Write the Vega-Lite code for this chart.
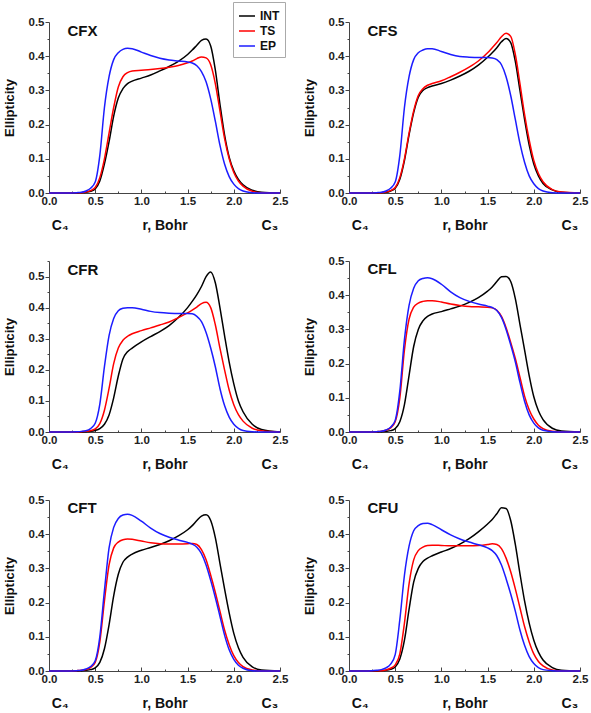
{
"$schema": "https://vega.github.io/schema/vega-lite/v6.json",
"padding": {"left": 3, "top": 1, "right": 2, "bottom": 0},
"background": "white",
"config": {"view": {"stroke": null}, "font": "Liberation Sans",
  "axis": {"grid": false, "domainColor": "#444", "tickColor": "#444", "labelFont": "Liberation Sans", "labelFontSize": 11.5, "labelFontWeight": "bold", "labelColor": "#222", "titleFont": "Liberation Sans", "titleFontWeight": "bold", "titleColor": "#111", "labelOverlap": false, "labelFlush": false}},
"bounds": "flush",
"columns": 2,
"spacing": {"row": 68, "column": 69},
"resolve": {"scale": {"x": "independent", "y": "independent", "color": "shared"}},
"datasets": {
"labels": [
{"p":"CFX","label":"CFX","x":0.2,"y":0.46},
{"p":"CFS","label":"CFS","x":0.2,"y":0.46},
{"p":"CFR","label":"CFR","x":0.2,"y":0.506},
{"p":"CFL","label":"CFL","x":0.2,"y":0.461},
{"p":"CFT","label":"CFT","x":0.2,"y":0.461},
{"p":"CFU","label":"CFU","x":0.2,"y":0.461}
],
"curves": [
{"p":"CFX","s":"INT","x":0,"y":0},{"p":"CFX","s":"INT","x":0.2,"y":0},{"p":"CFX","s":"INT","x":0.3,"y":0},{"p":"CFX","s":"INT","x":0.35,"y":0.001},{"p":"CFX","s":"INT","x":0.4,"y":0.002},{"p":"CFX","s":"INT","x":0.45,"y":0.005},{"p":"CFX","s":"INT","x":0.5,"y":0.012},{"p":"CFX","s":"INT","x":0.55,"y":0.035},{"p":"CFX","s":"INT","x":0.6,"y":0.085},{"p":"CFX","s":"INT","x":0.65,"y":0.15},{"p":"CFX","s":"INT","x":0.7,"y":0.225},{"p":"CFX","s":"INT","x":0.75,"y":0.278},{"p":"CFX","s":"INT","x":0.8,"y":0.305},{"p":"CFX","s":"INT","x":0.85,"y":0.32},{"p":"CFX","s":"INT","x":0.9,"y":0.327},{"p":"CFX","s":"INT","x":1.0,"y":0.336},{"p":"CFX","s":"INT","x":1.1,"y":0.345},{"p":"CFX","s":"INT","x":1.2,"y":0.357},{"p":"CFX","s":"INT","x":1.3,"y":0.37},{"p":"CFX","s":"INT","x":1.4,"y":0.385},{"p":"CFX","s":"INT","x":1.5,"y":0.405},{"p":"CFX","s":"INT","x":1.55,"y":0.418},{"p":"CFX","s":"INT","x":1.6,"y":0.432},{"p":"CFX","s":"INT","x":1.65,"y":0.446},{"p":"CFX","s":"INT","x":1.7,"y":0.45},{"p":"CFX","s":"INT","x":1.75,"y":0.43},{"p":"CFX","s":"INT","x":1.8,"y":0.36},{"p":"CFX","s":"INT","x":1.85,"y":0.26},{"p":"CFX","s":"INT","x":1.9,"y":0.17},{"p":"CFX","s":"INT","x":1.95,"y":0.105},{"p":"CFX","s":"INT","x":2.0,"y":0.065},{"p":"CFX","s":"INT","x":2.05,"y":0.04},{"p":"CFX","s":"INT","x":2.1,"y":0.024},{"p":"CFX","s":"INT","x":2.2,"y":0.008},{"p":"CFX","s":"INT","x":2.3,"y":0.002},{"p":"CFX","s":"INT","x":2.5,"y":0},
{"p":"CFX","s":"TS","x":0,"y":0},{"p":"CFX","s":"TS","x":0.2,"y":0},{"p":"CFX","s":"TS","x":0.3,"y":0.001},{"p":"CFX","s":"TS","x":0.35,"y":0.001},{"p":"CFX","s":"TS","x":0.4,"y":0.003},{"p":"CFX","s":"TS","x":0.45,"y":0.007},{"p":"CFX","s":"TS","x":0.5,"y":0.016},{"p":"CFX","s":"TS","x":0.55,"y":0.045},{"p":"CFX","s":"TS","x":0.6,"y":0.1},{"p":"CFX","s":"TS","x":0.65,"y":0.175},{"p":"CFX","s":"TS","x":0.7,"y":0.25},{"p":"CFX","s":"TS","x":0.75,"y":0.31},{"p":"CFX","s":"TS","x":0.8,"y":0.34},{"p":"CFX","s":"TS","x":0.85,"y":0.352},{"p":"CFX","s":"TS","x":0.9,"y":0.357},{"p":"CFX","s":"TS","x":1.0,"y":0.359},{"p":"CFX","s":"TS","x":1.1,"y":0.361},{"p":"CFX","s":"TS","x":1.2,"y":0.364},{"p":"CFX","s":"TS","x":1.3,"y":0.368},{"p":"CFX","s":"TS","x":1.4,"y":0.373},{"p":"CFX","s":"TS","x":1.5,"y":0.381},{"p":"CFX","s":"TS","x":1.55,"y":0.386},{"p":"CFX","s":"TS","x":1.6,"y":0.393},{"p":"CFX","s":"TS","x":1.65,"y":0.398},{"p":"CFX","s":"TS","x":1.7,"y":0.395},{"p":"CFX","s":"TS","x":1.75,"y":0.375},{"p":"CFX","s":"TS","x":1.8,"y":0.32},{"p":"CFX","s":"TS","x":1.85,"y":0.24},{"p":"CFX","s":"TS","x":1.9,"y":0.16},{"p":"CFX","s":"TS","x":1.95,"y":0.1},{"p":"CFX","s":"TS","x":2.0,"y":0.06},{"p":"CFX","s":"TS","x":2.05,"y":0.035},{"p":"CFX","s":"TS","x":2.1,"y":0.02},{"p":"CFX","s":"TS","x":2.2,"y":0.005},{"p":"CFX","s":"TS","x":2.3,"y":0.001},{"p":"CFX","s":"TS","x":2.5,"y":0},
{"p":"CFX","s":"EP","x":0,"y":0},{"p":"CFX","s":"EP","x":0.2,"y":0},{"p":"CFX","s":"EP","x":0.3,"y":0.001},{"p":"CFX","s":"EP","x":0.35,"y":0.002},{"p":"CFX","s":"EP","x":0.4,"y":0.006},{"p":"CFX","s":"EP","x":0.45,"y":0.014},{"p":"CFX","s":"EP","x":0.5,"y":0.032},{"p":"CFX","s":"EP","x":0.55,"y":0.11},{"p":"CFX","s":"EP","x":0.6,"y":0.25},{"p":"CFX","s":"EP","x":0.65,"y":0.34},{"p":"CFX","s":"EP","x":0.7,"y":0.39},{"p":"CFX","s":"EP","x":0.75,"y":0.41},{"p":"CFX","s":"EP","x":0.8,"y":0.42},{"p":"CFX","s":"EP","x":0.85,"y":0.423},{"p":"CFX","s":"EP","x":0.9,"y":0.422},{"p":"CFX","s":"EP","x":1.0,"y":0.412},{"p":"CFX","s":"EP","x":1.1,"y":0.402},{"p":"CFX","s":"EP","x":1.2,"y":0.394},{"p":"CFX","s":"EP","x":1.3,"y":0.389},{"p":"CFX","s":"EP","x":1.4,"y":0.386},{"p":"CFX","s":"EP","x":1.5,"y":0.383},{"p":"CFX","s":"EP","x":1.55,"y":0.38},{"p":"CFX","s":"EP","x":1.6,"y":0.372},{"p":"CFX","s":"EP","x":1.65,"y":0.355},{"p":"CFX","s":"EP","x":1.7,"y":0.325},{"p":"CFX","s":"EP","x":1.75,"y":0.275},{"p":"CFX","s":"EP","x":1.8,"y":0.21},{"p":"CFX","s":"EP","x":1.85,"y":0.14},{"p":"CFX","s":"EP","x":1.9,"y":0.085},{"p":"CFX","s":"EP","x":1.95,"y":0.048},{"p":"CFX","s":"EP","x":2.0,"y":0.026},{"p":"CFX","s":"EP","x":2.05,"y":0.013},{"p":"CFX","s":"EP","x":2.1,"y":0.006},{"p":"CFX","s":"EP","x":2.2,"y":0.001},{"p":"CFX","s":"EP","x":2.3,"y":0},{"p":"CFX","s":"EP","x":2.5,"y":0},

{"p":"CFS","s":"INT","x":0,"y":0},{"p":"CFS","s":"INT","x":0.2,"y":0},{"p":"CFS","s":"INT","x":0.3,"y":0},{"p":"CFS","s":"INT","x":0.35,"y":0.001},{"p":"CFS","s":"INT","x":0.4,"y":0.002},{"p":"CFS","s":"INT","x":0.45,"y":0.006},{"p":"CFS","s":"INT","x":0.5,"y":0.014},{"p":"CFS","s":"INT","x":0.55,"y":0.04},{"p":"CFS","s":"INT","x":0.6,"y":0.095},{"p":"CFS","s":"INT","x":0.65,"y":0.17},{"p":"CFS","s":"INT","x":0.7,"y":0.235},{"p":"CFS","s":"INT","x":0.75,"y":0.28},{"p":"CFS","s":"INT","x":0.8,"y":0.3},{"p":"CFS","s":"INT","x":0.85,"y":0.308},{"p":"CFS","s":"INT","x":0.9,"y":0.313},{"p":"CFS","s":"INT","x":1.0,"y":0.32},{"p":"CFS","s":"INT","x":1.1,"y":0.33},{"p":"CFS","s":"INT","x":1.2,"y":0.342},{"p":"CFS","s":"INT","x":1.3,"y":0.356},{"p":"CFS","s":"INT","x":1.4,"y":0.374},{"p":"CFS","s":"INT","x":1.5,"y":0.397},{"p":"CFS","s":"INT","x":1.55,"y":0.41},{"p":"CFS","s":"INT","x":1.6,"y":0.425},{"p":"CFS","s":"INT","x":1.65,"y":0.442},{"p":"CFS","s":"INT","x":1.7,"y":0.452},{"p":"CFS","s":"INT","x":1.75,"y":0.44},{"p":"CFS","s":"INT","x":1.8,"y":0.385},{"p":"CFS","s":"INT","x":1.85,"y":0.3},{"p":"CFS","s":"INT","x":1.9,"y":0.215},{"p":"CFS","s":"INT","x":1.95,"y":0.14},{"p":"CFS","s":"INT","x":2.0,"y":0.085},{"p":"CFS","s":"INT","x":2.05,"y":0.05},{"p":"CFS","s":"INT","x":2.1,"y":0.028},{"p":"CFS","s":"INT","x":2.2,"y":0.009},{"p":"CFS","s":"INT","x":2.3,"y":0.002},{"p":"CFS","s":"INT","x":2.5,"y":0},
{"p":"CFS","s":"TS","x":0,"y":0},{"p":"CFS","s":"TS","x":0.2,"y":0},{"p":"CFS","s":"TS","x":0.3,"y":0.001},{"p":"CFS","s":"TS","x":0.35,"y":0.001},{"p":"CFS","s":"TS","x":0.4,"y":0.003},{"p":"CFS","s":"TS","x":0.45,"y":0.007},{"p":"CFS","s":"TS","x":0.5,"y":0.016},{"p":"CFS","s":"TS","x":0.55,"y":0.045},{"p":"CFS","s":"TS","x":0.6,"y":0.1},{"p":"CFS","s":"TS","x":0.65,"y":0.175},{"p":"CFS","s":"TS","x":0.7,"y":0.24},{"p":"CFS","s":"TS","x":0.75,"y":0.285},{"p":"CFS","s":"TS","x":0.8,"y":0.305},{"p":"CFS","s":"TS","x":0.85,"y":0.315},{"p":"CFS","s":"TS","x":0.9,"y":0.32},{"p":"CFS","s":"TS","x":1.0,"y":0.328},{"p":"CFS","s":"TS","x":1.1,"y":0.34},{"p":"CFS","s":"TS","x":1.2,"y":0.353},{"p":"CFS","s":"TS","x":1.3,"y":0.368},{"p":"CFS","s":"TS","x":1.4,"y":0.386},{"p":"CFS","s":"TS","x":1.5,"y":0.41},{"p":"CFS","s":"TS","x":1.55,"y":0.425},{"p":"CFS","s":"TS","x":1.6,"y":0.44},{"p":"CFS","s":"TS","x":1.65,"y":0.457},{"p":"CFS","s":"TS","x":1.7,"y":0.467},{"p":"CFS","s":"TS","x":1.75,"y":0.458},{"p":"CFS","s":"TS","x":1.8,"y":0.405},{"p":"CFS","s":"TS","x":1.85,"y":0.32},{"p":"CFS","s":"TS","x":1.9,"y":0.23},{"p":"CFS","s":"TS","x":1.95,"y":0.155},{"p":"CFS","s":"TS","x":2.0,"y":0.095},{"p":"CFS","s":"TS","x":2.05,"y":0.057},{"p":"CFS","s":"TS","x":2.1,"y":0.033},{"p":"CFS","s":"TS","x":2.2,"y":0.01},{"p":"CFS","s":"TS","x":2.3,"y":0.003},{"p":"CFS","s":"TS","x":2.5,"y":0},
{"p":"CFS","s":"EP","x":0,"y":0},{"p":"CFS","s":"EP","x":0.2,"y":0},{"p":"CFS","s":"EP","x":0.3,"y":0.001},{"p":"CFS","s":"EP","x":0.35,"y":0.002},{"p":"CFS","s":"EP","x":0.4,"y":0.006},{"p":"CFS","s":"EP","x":0.45,"y":0.014},{"p":"CFS","s":"EP","x":0.5,"y":0.032},{"p":"CFS","s":"EP","x":0.55,"y":0.11},{"p":"CFS","s":"EP","x":0.6,"y":0.25},{"p":"CFS","s":"EP","x":0.65,"y":0.34},{"p":"CFS","s":"EP","x":0.7,"y":0.39},{"p":"CFS","s":"EP","x":0.75,"y":0.41},{"p":"CFS","s":"EP","x":0.8,"y":0.418},{"p":"CFS","s":"EP","x":0.85,"y":0.422},{"p":"CFS","s":"EP","x":0.9,"y":0.422},{"p":"CFS","s":"EP","x":1.0,"y":0.414},{"p":"CFS","s":"EP","x":1.1,"y":0.405},{"p":"CFS","s":"EP","x":1.2,"y":0.399},{"p":"CFS","s":"EP","x":1.3,"y":0.397},{"p":"CFS","s":"EP","x":1.4,"y":0.396},{"p":"CFS","s":"EP","x":1.5,"y":0.396},{"p":"CFS","s":"EP","x":1.55,"y":0.395},{"p":"CFS","s":"EP","x":1.6,"y":0.39},{"p":"CFS","s":"EP","x":1.65,"y":0.375},{"p":"CFS","s":"EP","x":1.7,"y":0.34},{"p":"CFS","s":"EP","x":1.75,"y":0.285},{"p":"CFS","s":"EP","x":1.8,"y":0.215},{"p":"CFS","s":"EP","x":1.85,"y":0.145},{"p":"CFS","s":"EP","x":1.9,"y":0.09},{"p":"CFS","s":"EP","x":1.95,"y":0.05},{"p":"CFS","s":"EP","x":2.0,"y":0.027},{"p":"CFS","s":"EP","x":2.05,"y":0.013},{"p":"CFS","s":"EP","x":2.1,"y":0.006},{"p":"CFS","s":"EP","x":2.2,"y":0.001},{"p":"CFS","s":"EP","x":2.3,"y":0},{"p":"CFS","s":"EP","x":2.5,"y":0},

{"p":"CFR","s":"INT","x":0,"y":0},{"p":"CFR","s":"INT","x":0.2,"y":0},{"p":"CFR","s":"INT","x":0.3,"y":0},{"p":"CFR","s":"INT","x":0.35,"y":0},{"p":"CFR","s":"INT","x":0.4,"y":0.001},{"p":"CFR","s":"INT","x":0.45,"y":0.002},{"p":"CFR","s":"INT","x":0.5,"y":0.005},{"p":"CFR","s":"INT","x":0.55,"y":0.011},{"p":"CFR","s":"INT","x":0.6,"y":0.025},{"p":"CFR","s":"INT","x":0.65,"y":0.055},{"p":"CFR","s":"INT","x":0.7,"y":0.11},{"p":"CFR","s":"INT","x":0.75,"y":0.18},{"p":"CFR","s":"INT","x":0.8,"y":0.235},{"p":"CFR","s":"INT","x":0.85,"y":0.258},{"p":"CFR","s":"INT","x":0.9,"y":0.27},{"p":"CFR","s":"INT","x":1.0,"y":0.29},{"p":"CFR","s":"INT","x":1.1,"y":0.307},{"p":"CFR","s":"INT","x":1.2,"y":0.323},{"p":"CFR","s":"INT","x":1.3,"y":0.342},{"p":"CFR","s":"INT","x":1.4,"y":0.368},{"p":"CFR","s":"INT","x":1.5,"y":0.4},{"p":"CFR","s":"INT","x":1.55,"y":0.42},{"p":"CFR","s":"INT","x":1.6,"y":0.442},{"p":"CFR","s":"INT","x":1.65,"y":0.468},{"p":"CFR","s":"INT","x":1.7,"y":0.5},{"p":"CFR","s":"INT","x":1.75,"y":0.515},{"p":"CFR","s":"INT","x":1.8,"y":0.48},{"p":"CFR","s":"INT","x":1.85,"y":0.4},{"p":"CFR","s":"INT","x":1.9,"y":0.31},{"p":"CFR","s":"INT","x":1.95,"y":0.225},{"p":"CFR","s":"INT","x":2.0,"y":0.155},{"p":"CFR","s":"INT","x":2.05,"y":0.1},{"p":"CFR","s":"INT","x":2.1,"y":0.065},{"p":"CFR","s":"INT","x":2.2,"y":0.025},{"p":"CFR","s":"INT","x":2.3,"y":0.008},{"p":"CFR","s":"INT","x":2.5,"y":0},
{"p":"CFR","s":"TS","x":0,"y":0},{"p":"CFR","s":"TS","x":0.2,"y":0},{"p":"CFR","s":"TS","x":0.3,"y":0},{"p":"CFR","s":"TS","x":0.35,"y":0.001},{"p":"CFR","s":"TS","x":0.4,"y":0.002},{"p":"CFR","s":"TS","x":0.45,"y":0.004},{"p":"CFR","s":"TS","x":0.5,"y":0.01},{"p":"CFR","s":"TS","x":0.55,"y":0.027},{"p":"CFR","s":"TS","x":0.6,"y":0.07},{"p":"CFR","s":"TS","x":0.65,"y":0.14},{"p":"CFR","s":"TS","x":0.7,"y":0.22},{"p":"CFR","s":"TS","x":0.75,"y":0.27},{"p":"CFR","s":"TS","x":0.8,"y":0.295},{"p":"CFR","s":"TS","x":0.85,"y":0.308},{"p":"CFR","s":"TS","x":0.9,"y":0.316},{"p":"CFR","s":"TS","x":1.0,"y":0.326},{"p":"CFR","s":"TS","x":1.1,"y":0.335},{"p":"CFR","s":"TS","x":1.2,"y":0.344},{"p":"CFR","s":"TS","x":1.3,"y":0.354},{"p":"CFR","s":"TS","x":1.4,"y":0.368},{"p":"CFR","s":"TS","x":1.5,"y":0.383},{"p":"CFR","s":"TS","x":1.55,"y":0.392},{"p":"CFR","s":"TS","x":1.6,"y":0.402},{"p":"CFR","s":"TS","x":1.65,"y":0.413},{"p":"CFR","s":"TS","x":1.7,"y":0.417},{"p":"CFR","s":"TS","x":1.75,"y":0.4},{"p":"CFR","s":"TS","x":1.8,"y":0.345},{"p":"CFR","s":"TS","x":1.85,"y":0.27},{"p":"CFR","s":"TS","x":1.9,"y":0.2},{"p":"CFR","s":"TS","x":1.95,"y":0.135},{"p":"CFR","s":"TS","x":2.0,"y":0.088},{"p":"CFR","s":"TS","x":2.05,"y":0.056},{"p":"CFR","s":"TS","x":2.1,"y":0.035},{"p":"CFR","s":"TS","x":2.2,"y":0.012},{"p":"CFR","s":"TS","x":2.3,"y":0.004},{"p":"CFR","s":"TS","x":2.5,"y":0},
{"p":"CFR","s":"EP","x":0,"y":0},{"p":"CFR","s":"EP","x":0.2,"y":0},{"p":"CFR","s":"EP","x":0.3,"y":0.001},{"p":"CFR","s":"EP","x":0.35,"y":0.002},{"p":"CFR","s":"EP","x":0.4,"y":0.004},{"p":"CFR","s":"EP","x":0.45,"y":0.011},{"p":"CFR","s":"EP","x":0.5,"y":0.028},{"p":"CFR","s":"EP","x":0.55,"y":0.09},{"p":"CFR","s":"EP","x":0.6,"y":0.21},{"p":"CFR","s":"EP","x":0.65,"y":0.31},{"p":"CFR","s":"EP","x":0.7,"y":0.365},{"p":"CFR","s":"EP","x":0.75,"y":0.39},{"p":"CFR","s":"EP","x":0.8,"y":0.398},{"p":"CFR","s":"EP","x":0.85,"y":0.4},{"p":"CFR","s":"EP","x":0.9,"y":0.4},{"p":"CFR","s":"EP","x":1.0,"y":0.395},{"p":"CFR","s":"EP","x":1.1,"y":0.388},{"p":"CFR","s":"EP","x":1.2,"y":0.384},{"p":"CFR","s":"EP","x":1.3,"y":0.382},{"p":"CFR","s":"EP","x":1.4,"y":0.381},{"p":"CFR","s":"EP","x":1.5,"y":0.381},{"p":"CFR","s":"EP","x":1.55,"y":0.38},{"p":"CFR","s":"EP","x":1.6,"y":0.372},{"p":"CFR","s":"EP","x":1.65,"y":0.355},{"p":"CFR","s":"EP","x":1.7,"y":0.32},{"p":"CFR","s":"EP","x":1.75,"y":0.27},{"p":"CFR","s":"EP","x":1.8,"y":0.21},{"p":"CFR","s":"EP","x":1.85,"y":0.14},{"p":"CFR","s":"EP","x":1.9,"y":0.085},{"p":"CFR","s":"EP","x":1.95,"y":0.048},{"p":"CFR","s":"EP","x":2.0,"y":0.025},{"p":"CFR","s":"EP","x":2.05,"y":0.012},{"p":"CFR","s":"EP","x":2.1,"y":0.005},{"p":"CFR","s":"EP","x":2.2,"y":0.001},{"p":"CFR","s":"EP","x":2.3,"y":0},{"p":"CFR","s":"EP","x":2.5,"y":0},

{"p":"CFL","s":"INT","x":0,"y":0},{"p":"CFL","s":"INT","x":0.2,"y":0},{"p":"CFL","s":"INT","x":0.3,"y":0},{"p":"CFL","s":"INT","x":0.35,"y":0.001},{"p":"CFL","s":"INT","x":0.4,"y":0.002},{"p":"CFL","s":"INT","x":0.45,"y":0.004},{"p":"CFL","s":"INT","x":0.5,"y":0.01},{"p":"CFL","s":"INT","x":0.55,"y":0.03},{"p":"CFL","s":"INT","x":0.6,"y":0.08},{"p":"CFL","s":"INT","x":0.65,"y":0.165},{"p":"CFL","s":"INT","x":0.7,"y":0.25},{"p":"CFL","s":"INT","x":0.75,"y":0.3},{"p":"CFL","s":"INT","x":0.8,"y":0.325},{"p":"CFL","s":"INT","x":0.85,"y":0.338},{"p":"CFL","s":"INT","x":0.9,"y":0.345},{"p":"CFL","s":"INT","x":1.0,"y":0.352},{"p":"CFL","s":"INT","x":1.1,"y":0.36},{"p":"CFL","s":"INT","x":1.2,"y":0.368},{"p":"CFL","s":"INT","x":1.3,"y":0.379},{"p":"CFL","s":"INT","x":1.4,"y":0.393},{"p":"CFL","s":"INT","x":1.5,"y":0.412},{"p":"CFL","s":"INT","x":1.55,"y":0.424},{"p":"CFL","s":"INT","x":1.6,"y":0.44},{"p":"CFL","s":"INT","x":1.65,"y":0.454},{"p":"CFL","s":"INT","x":1.7,"y":0.455},{"p":"CFL","s":"INT","x":1.75,"y":0.44},{"p":"CFL","s":"INT","x":1.8,"y":0.39},{"p":"CFL","s":"INT","x":1.85,"y":0.315},{"p":"CFL","s":"INT","x":1.9,"y":0.24},{"p":"CFL","s":"INT","x":1.95,"y":0.165},{"p":"CFL","s":"INT","x":2.0,"y":0.103},{"p":"CFL","s":"INT","x":2.05,"y":0.062},{"p":"CFL","s":"INT","x":2.1,"y":0.036},{"p":"CFL","s":"INT","x":2.2,"y":0.011},{"p":"CFL","s":"INT","x":2.3,"y":0.003},{"p":"CFL","s":"INT","x":2.5,"y":0},
{"p":"CFL","s":"TS","x":0,"y":0},{"p":"CFL","s":"TS","x":0.2,"y":0},{"p":"CFL","s":"TS","x":0.3,"y":0.001},{"p":"CFL","s":"TS","x":0.35,"y":0.002},{"p":"CFL","s":"TS","x":0.4,"y":0.005},{"p":"CFL","s":"TS","x":0.45,"y":0.012},{"p":"CFL","s":"TS","x":0.5,"y":0.03},{"p":"CFL","s":"TS","x":0.55,"y":0.1},{"p":"CFL","s":"TS","x":0.6,"y":0.24},{"p":"CFL","s":"TS","x":0.65,"y":0.33},{"p":"CFL","s":"TS","x":0.7,"y":0.365},{"p":"CFL","s":"TS","x":0.75,"y":0.377},{"p":"CFL","s":"TS","x":0.8,"y":0.382},{"p":"CFL","s":"TS","x":0.85,"y":0.384},{"p":"CFL","s":"TS","x":0.9,"y":0.384},{"p":"CFL","s":"TS","x":1.0,"y":0.38},{"p":"CFL","s":"TS","x":1.1,"y":0.374},{"p":"CFL","s":"TS","x":1.2,"y":0.37},{"p":"CFL","s":"TS","x":1.3,"y":0.367},{"p":"CFL","s":"TS","x":1.4,"y":0.366},{"p":"CFL","s":"TS","x":1.5,"y":0.365},{"p":"CFL","s":"TS","x":1.55,"y":0.363},{"p":"CFL","s":"TS","x":1.6,"y":0.356},{"p":"CFL","s":"TS","x":1.65,"y":0.338},{"p":"CFL","s":"TS","x":1.7,"y":0.305},{"p":"CFL","s":"TS","x":1.75,"y":0.262},{"p":"CFL","s":"TS","x":1.8,"y":0.215},{"p":"CFL","s":"TS","x":1.85,"y":0.16},{"p":"CFL","s":"TS","x":1.9,"y":0.105},{"p":"CFL","s":"TS","x":1.95,"y":0.065},{"p":"CFL","s":"TS","x":2.0,"y":0.038},{"p":"CFL","s":"TS","x":2.05,"y":0.02},{"p":"CFL","s":"TS","x":2.1,"y":0.01},{"p":"CFL","s":"TS","x":2.2,"y":0.002},{"p":"CFL","s":"TS","x":2.3,"y":0},{"p":"CFL","s":"TS","x":2.5,"y":0},
{"p":"CFL","s":"EP","x":0,"y":0},{"p":"CFL","s":"EP","x":0.2,"y":0},{"p":"CFL","s":"EP","x":0.3,"y":0.001},{"p":"CFL","s":"EP","x":0.35,"y":0.002},{"p":"CFL","s":"EP","x":0.4,"y":0.006},{"p":"CFL","s":"EP","x":0.45,"y":0.014},{"p":"CFL","s":"EP","x":0.5,"y":0.034},{"p":"CFL","s":"EP","x":0.55,"y":0.12},{"p":"CFL","s":"EP","x":0.6,"y":0.27},{"p":"CFL","s":"EP","x":0.65,"y":0.37},{"p":"CFL","s":"EP","x":0.7,"y":0.42},{"p":"CFL","s":"EP","x":0.75,"y":0.442},{"p":"CFL","s":"EP","x":0.8,"y":0.449},{"p":"CFL","s":"EP","x":0.85,"y":0.451},{"p":"CFL","s":"EP","x":0.9,"y":0.448},{"p":"CFL","s":"EP","x":1.0,"y":0.432},{"p":"CFL","s":"EP","x":1.1,"y":0.41},{"p":"CFL","s":"EP","x":1.2,"y":0.393},{"p":"CFL","s":"EP","x":1.3,"y":0.382},{"p":"CFL","s":"EP","x":1.4,"y":0.374},{"p":"CFL","s":"EP","x":1.5,"y":0.368},{"p":"CFL","s":"EP","x":1.55,"y":0.364},{"p":"CFL","s":"EP","x":1.6,"y":0.355},{"p":"CFL","s":"EP","x":1.65,"y":0.335},{"p":"CFL","s":"EP","x":1.7,"y":0.3},{"p":"CFL","s":"EP","x":1.75,"y":0.255},{"p":"CFL","s":"EP","x":1.8,"y":0.205},{"p":"CFL","s":"EP","x":1.85,"y":0.145},{"p":"CFL","s":"EP","x":1.9,"y":0.09},{"p":"CFL","s":"EP","x":1.95,"y":0.05},{"p":"CFL","s":"EP","x":2.0,"y":0.026},{"p":"CFL","s":"EP","x":2.05,"y":0.012},{"p":"CFL","s":"EP","x":2.1,"y":0.005},{"p":"CFL","s":"EP","x":2.2,"y":0.001},{"p":"CFL","s":"EP","x":2.3,"y":0},{"p":"CFL","s":"EP","x":2.5,"y":0},

{"p":"CFT","s":"INT","x":0,"y":0},{"p":"CFT","s":"INT","x":0.2,"y":0},{"p":"CFT","s":"INT","x":0.3,"y":0},{"p":"CFT","s":"INT","x":0.35,"y":0.001},{"p":"CFT","s":"INT","x":0.4,"y":0.002},{"p":"CFT","s":"INT","x":0.45,"y":0.004},{"p":"CFT","s":"INT","x":0.5,"y":0.009},{"p":"CFT","s":"INT","x":0.55,"y":0.025},{"p":"CFT","s":"INT","x":0.6,"y":0.065},{"p":"CFT","s":"INT","x":0.65,"y":0.135},{"p":"CFT","s":"INT","x":0.7,"y":0.22},{"p":"CFT","s":"INT","x":0.75,"y":0.283},{"p":"CFT","s":"INT","x":0.8,"y":0.318},{"p":"CFT","s":"INT","x":0.85,"y":0.333},{"p":"CFT","s":"INT","x":0.9,"y":0.342},{"p":"CFT","s":"INT","x":1.0,"y":0.353},{"p":"CFT","s":"INT","x":1.1,"y":0.361},{"p":"CFT","s":"INT","x":1.2,"y":0.37},{"p":"CFT","s":"INT","x":1.3,"y":0.381},{"p":"CFT","s":"INT","x":1.4,"y":0.395},{"p":"CFT","s":"INT","x":1.5,"y":0.413},{"p":"CFT","s":"INT","x":1.55,"y":0.425},{"p":"CFT","s":"INT","x":1.6,"y":0.44},{"p":"CFT","s":"INT","x":1.65,"y":0.453},{"p":"CFT","s":"INT","x":1.7,"y":0.457},{"p":"CFT","s":"INT","x":1.75,"y":0.44},{"p":"CFT","s":"INT","x":1.8,"y":0.39},{"p":"CFT","s":"INT","x":1.85,"y":0.315},{"p":"CFT","s":"INT","x":1.9,"y":0.24},{"p":"CFT","s":"INT","x":1.95,"y":0.17},{"p":"CFT","s":"INT","x":2.0,"y":0.11},{"p":"CFT","s":"INT","x":2.05,"y":0.068},{"p":"CFT","s":"INT","x":2.1,"y":0.04},{"p":"CFT","s":"INT","x":2.2,"y":0.012},{"p":"CFT","s":"INT","x":2.3,"y":0.003},{"p":"CFT","s":"INT","x":2.5,"y":0},
{"p":"CFT","s":"TS","x":0,"y":0},{"p":"CFT","s":"TS","x":0.2,"y":0},{"p":"CFT","s":"TS","x":0.3,"y":0.001},{"p":"CFT","s":"TS","x":0.35,"y":0.002},{"p":"CFT","s":"TS","x":0.4,"y":0.004},{"p":"CFT","s":"TS","x":0.45,"y":0.01},{"p":"CFT","s":"TS","x":0.5,"y":0.025},{"p":"CFT","s":"TS","x":0.55,"y":0.085},{"p":"CFT","s":"TS","x":0.6,"y":0.205},{"p":"CFT","s":"TS","x":0.65,"y":0.31},{"p":"CFT","s":"TS","x":0.7,"y":0.36},{"p":"CFT","s":"TS","x":0.75,"y":0.377},{"p":"CFT","s":"TS","x":0.8,"y":0.384},{"p":"CFT","s":"TS","x":0.85,"y":0.386},{"p":"CFT","s":"TS","x":0.9,"y":0.385},{"p":"CFT","s":"TS","x":1.0,"y":0.38},{"p":"CFT","s":"TS","x":1.1,"y":0.375},{"p":"CFT","s":"TS","x":1.2,"y":0.372},{"p":"CFT","s":"TS","x":1.3,"y":0.371},{"p":"CFT","s":"TS","x":1.4,"y":0.371},{"p":"CFT","s":"TS","x":1.5,"y":0.372},{"p":"CFT","s":"TS","x":1.55,"y":0.373},{"p":"CFT","s":"TS","x":1.6,"y":0.37},{"p":"CFT","s":"TS","x":1.65,"y":0.355},{"p":"CFT","s":"TS","x":1.7,"y":0.325},{"p":"CFT","s":"TS","x":1.75,"y":0.28},{"p":"CFT","s":"TS","x":1.8,"y":0.23},{"p":"CFT","s":"TS","x":1.85,"y":0.175},{"p":"CFT","s":"TS","x":1.9,"y":0.12},{"p":"CFT","s":"TS","x":1.95,"y":0.077},{"p":"CFT","s":"TS","x":2.0,"y":0.045},{"p":"CFT","s":"TS","x":2.05,"y":0.025},{"p":"CFT","s":"TS","x":2.1,"y":0.013},{"p":"CFT","s":"TS","x":2.2,"y":0.003},{"p":"CFT","s":"TS","x":2.3,"y":0},{"p":"CFT","s":"TS","x":2.5,"y":0},
{"p":"CFT","s":"EP","x":0,"y":0},{"p":"CFT","s":"EP","x":0.2,"y":0},{"p":"CFT","s":"EP","x":0.3,"y":0.001},{"p":"CFT","s":"EP","x":0.35,"y":0.002},{"p":"CFT","s":"EP","x":0.4,"y":0.006},{"p":"CFT","s":"EP","x":0.45,"y":0.013},{"p":"CFT","s":"EP","x":0.5,"y":0.03},{"p":"CFT","s":"EP","x":0.55,"y":0.1},{"p":"CFT","s":"EP","x":0.6,"y":0.235},{"p":"CFT","s":"EP","x":0.65,"y":0.36},{"p":"CFT","s":"EP","x":0.7,"y":0.42},{"p":"CFT","s":"EP","x":0.75,"y":0.446},{"p":"CFT","s":"EP","x":0.8,"y":0.456},{"p":"CFT","s":"EP","x":0.85,"y":0.458},{"p":"CFT","s":"EP","x":0.9,"y":0.455},{"p":"CFT","s":"EP","x":1.0,"y":0.438},{"p":"CFT","s":"EP","x":1.1,"y":0.418},{"p":"CFT","s":"EP","x":1.2,"y":0.402},{"p":"CFT","s":"EP","x":1.3,"y":0.391},{"p":"CFT","s":"EP","x":1.4,"y":0.383},{"p":"CFT","s":"EP","x":1.5,"y":0.376},{"p":"CFT","s":"EP","x":1.55,"y":0.371},{"p":"CFT","s":"EP","x":1.6,"y":0.362},{"p":"CFT","s":"EP","x":1.65,"y":0.343},{"p":"CFT","s":"EP","x":1.7,"y":0.31},{"p":"CFT","s":"EP","x":1.75,"y":0.265},{"p":"CFT","s":"EP","x":1.8,"y":0.215},{"p":"CFT","s":"EP","x":1.85,"y":0.16},{"p":"CFT","s":"EP","x":1.9,"y":0.105},{"p":"CFT","s":"EP","x":1.95,"y":0.062},{"p":"CFT","s":"EP","x":2.0,"y":0.034},{"p":"CFT","s":"EP","x":2.05,"y":0.017},{"p":"CFT","s":"EP","x":2.1,"y":0.008},{"p":"CFT","s":"EP","x":2.2,"y":0.001},{"p":"CFT","s":"EP","x":2.3,"y":0},{"p":"CFT","s":"EP","x":2.5,"y":0},

{"p":"CFU","s":"INT","x":0,"y":0},{"p":"CFU","s":"INT","x":0.2,"y":0},{"p":"CFU","s":"INT","x":0.3,"y":0},{"p":"CFU","s":"INT","x":0.35,"y":0.001},{"p":"CFU","s":"INT","x":0.4,"y":0.002},{"p":"CFU","s":"INT","x":0.45,"y":0.005},{"p":"CFU","s":"INT","x":0.5,"y":0.012},{"p":"CFU","s":"INT","x":0.55,"y":0.035},{"p":"CFU","s":"INT","x":0.6,"y":0.09},{"p":"CFU","s":"INT","x":0.65,"y":0.18},{"p":"CFU","s":"INT","x":0.7,"y":0.26},{"p":"CFU","s":"INT","x":0.75,"y":0.3},{"p":"CFU","s":"INT","x":0.8,"y":0.32},{"p":"CFU","s":"INT","x":0.85,"y":0.33},{"p":"CFU","s":"INT","x":0.9,"y":0.337},{"p":"CFU","s":"INT","x":1.0,"y":0.348},{"p":"CFU","s":"INT","x":1.1,"y":0.358},{"p":"CFU","s":"INT","x":1.2,"y":0.371},{"p":"CFU","s":"INT","x":1.3,"y":0.387},{"p":"CFU","s":"INT","x":1.4,"y":0.407},{"p":"CFU","s":"INT","x":1.5,"y":0.43},{"p":"CFU","s":"INT","x":1.55,"y":0.443},{"p":"CFU","s":"INT","x":1.6,"y":0.46},{"p":"CFU","s":"INT","x":1.65,"y":0.477},{"p":"CFU","s":"INT","x":1.7,"y":0.475},{"p":"CFU","s":"INT","x":1.75,"y":0.44},{"p":"CFU","s":"INT","x":1.8,"y":0.37},{"p":"CFU","s":"INT","x":1.85,"y":0.285},{"p":"CFU","s":"INT","x":1.9,"y":0.205},{"p":"CFU","s":"INT","x":1.95,"y":0.14},{"p":"CFU","s":"INT","x":2.0,"y":0.09},{"p":"CFU","s":"INT","x":2.05,"y":0.055},{"p":"CFU","s":"INT","x":2.1,"y":0.032},{"p":"CFU","s":"INT","x":2.2,"y":0.01},{"p":"CFU","s":"INT","x":2.3,"y":0.002},{"p":"CFU","s":"INT","x":2.5,"y":0},
{"p":"CFU","s":"TS","x":0,"y":0},{"p":"CFU","s":"TS","x":0.2,"y":0},{"p":"CFU","s":"TS","x":0.3,"y":0.001},{"p":"CFU","s":"TS","x":0.35,"y":0.001},{"p":"CFU","s":"TS","x":0.4,"y":0.003},{"p":"CFU","s":"TS","x":0.45,"y":0.008},{"p":"CFU","s":"TS","x":0.5,"y":0.018},{"p":"CFU","s":"TS","x":0.55,"y":0.05},{"p":"CFU","s":"TS","x":0.6,"y":0.14},{"p":"CFU","s":"TS","x":0.65,"y":0.255},{"p":"CFU","s":"TS","x":0.7,"y":0.325},{"p":"CFU","s":"TS","x":0.75,"y":0.352},{"p":"CFU","s":"TS","x":0.8,"y":0.362},{"p":"CFU","s":"TS","x":0.85,"y":0.367},{"p":"CFU","s":"TS","x":0.9,"y":0.368},{"p":"CFU","s":"TS","x":1.0,"y":0.367},{"p":"CFU","s":"TS","x":1.1,"y":0.366},{"p":"CFU","s":"TS","x":1.2,"y":0.366},{"p":"CFU","s":"TS","x":1.3,"y":0.366},{"p":"CFU","s":"TS","x":1.4,"y":0.367},{"p":"CFU","s":"TS","x":1.5,"y":0.37},{"p":"CFU","s":"TS","x":1.55,"y":0.372},{"p":"CFU","s":"TS","x":1.6,"y":0.37},{"p":"CFU","s":"TS","x":1.65,"y":0.358},{"p":"CFU","s":"TS","x":1.7,"y":0.33},{"p":"CFU","s":"TS","x":1.75,"y":0.29},{"p":"CFU","s":"TS","x":1.8,"y":0.24},{"p":"CFU","s":"TS","x":1.85,"y":0.185},{"p":"CFU","s":"TS","x":1.9,"y":0.13},{"p":"CFU","s":"TS","x":1.95,"y":0.085},{"p":"CFU","s":"TS","x":2.0,"y":0.05},{"p":"CFU","s":"TS","x":2.05,"y":0.028},{"p":"CFU","s":"TS","x":2.1,"y":0.015},{"p":"CFU","s":"TS","x":2.2,"y":0.003},{"p":"CFU","s":"TS","x":2.3,"y":0},{"p":"CFU","s":"TS","x":2.5,"y":0},
{"p":"CFU","s":"EP","x":0,"y":0},{"p":"CFU","s":"EP","x":0.2,"y":0},{"p":"CFU","s":"EP","x":0.25,"y":0.001},{"p":"CFU","s":"EP","x":0.3,"y":0.002},{"p":"CFU","s":"EP","x":0.35,"y":0.004},{"p":"CFU","s":"EP","x":0.4,"y":0.009},{"p":"CFU","s":"EP","x":0.45,"y":0.02},{"p":"CFU","s":"EP","x":0.5,"y":0.048},{"p":"CFU","s":"EP","x":0.55,"y":0.15},{"p":"CFU","s":"EP","x":0.6,"y":0.28},{"p":"CFU","s":"EP","x":0.65,"y":0.365},{"p":"CFU","s":"EP","x":0.7,"y":0.41},{"p":"CFU","s":"EP","x":0.75,"y":0.425},{"p":"CFU","s":"EP","x":0.8,"y":0.431},{"p":"CFU","s":"EP","x":0.85,"y":0.432},{"p":"CFU","s":"EP","x":0.9,"y":0.428},{"p":"CFU","s":"EP","x":1.0,"y":0.413},{"p":"CFU","s":"EP","x":1.1,"y":0.398},{"p":"CFU","s":"EP","x":1.2,"y":0.386},{"p":"CFU","s":"EP","x":1.3,"y":0.377},{"p":"CFU","s":"EP","x":1.4,"y":0.369},{"p":"CFU","s":"EP","x":1.5,"y":0.36},{"p":"CFU","s":"EP","x":1.55,"y":0.352},{"p":"CFU","s":"EP","x":1.6,"y":0.337},{"p":"CFU","s":"EP","x":1.65,"y":0.31},{"p":"CFU","s":"EP","x":1.7,"y":0.27},{"p":"CFU","s":"EP","x":1.75,"y":0.225},{"p":"CFU","s":"EP","x":1.8,"y":0.175},{"p":"CFU","s":"EP","x":1.85,"y":0.12},{"p":"CFU","s":"EP","x":1.9,"y":0.075},{"p":"CFU","s":"EP","x":1.95,"y":0.042},{"p":"CFU","s":"EP","x":2.0,"y":0.022},{"p":"CFU","s":"EP","x":2.05,"y":0.01},{"p":"CFU","s":"EP","x":2.1,"y":0.004},{"p":"CFU","s":"EP","x":2.2,"y":0.001},{"p":"CFU","s":"EP","x":2.3,"y":0},{"p":"CFU","s":"EP","x":2.5,"y":0}
]},
"concat": [
{"width": 231, "height": 171,
 "encoding": {
   "x": {"field": "x", "type": "quantitative", "scale": {"domain": [0, 2.5], "nice": false},
     "axis": {"title": "C₄\u00a0\u00a0\u00a0\u00a0\u00a0\u00a0\u00a0\u00a0\u00a0\u00a0\u00a0\u00a0\u00a0\u00a0\u00a0\u00a0\u00a0\u00a0\u00a0r, Bohr\u00a0\u00a0\u00a0\u00a0\u00a0\u00a0\u00a0\u00a0\u00a0\u00a0\u00a0\u00a0\u00a0\u00a0\u00a0\u00a0\u00a0\u00a0\u00a0C₃", "titleFontSize": 14, "titlePadding": 10, "values": [0,0.25,0.5,0.75,1,1.25,1.5,1.75,2,2.25,2.5], "labelExpr": "abs(datum.value*2 - round(datum.value*2)) < 0.001 ? format(datum.value, '.1f') : ''", "tickSize": {"condition": {"test": "abs(datum.value*2 - round(datum.value*2)) < 0.001", "value": -4}, "value": -2}, "labelPadding": 6}},
   "y": {"field": "y", "type": "quantitative", "scale": {"domain": [0, 0.5], "nice": false},
     "axis": {"title": "Ellipticity", "titleFontSize": 13, "titlePadding": 12, "values": [0,0.05,0.1,0.15,0.2,0.25,0.3,0.35,0.4,0.45,0.5], "labelExpr": "abs(datum.value*10 - round(datum.value*10)) < 0.001 ? format(datum.value, '.1f') : ''", "tickSize": {"condition": {"test": "abs(datum.value*10 - round(datum.value*10)) < 0.001", "value": 4}, "value": 2}, "labelPadding": 1}}
 },
 "layer": [
 {"data": {"name": "curves"}, "transform": [{"filter": "datum.p == 'CFX'"}],
  "mark": {"type": "line", "interpolate": "monotone", "strokeWidth": 1.5},
  "encoding": {
   "color": {"field": "s", "type": "nominal", "scale": {"domain": ["INT", "TS", "EP"], "range": ["#000000", "#ff0000", "#1c1cff"]},
     "legend": {"title": null, "orient": "none", "legendX": 184, "legendY": -20, "direction": "vertical", "symbolType": "stroke", "symbolStrokeWidth": 1.5, "symbolSize": 256, "labelFontSize": 12, "labelFontWeight": "bold", "labelColor": "#111", "labelFont": "Liberation Sans", "strokeColor": "#aaaaaa", "fillColor": "white", "padding": 5, "rowPadding": 0, "labelOffset": 4}}
  }},
 {"data": {"name": "labels"}, "transform": [{"filter": "datum.p == 'CFX'"}],
  "mark": {"type": "text", "align": "left", "baseline": "alphabetic", "fontSize": 15, "fontWeight": "bold", "font": "Liberation Sans", "color": "#111"},
  "encoding": {"text": {"field": "label"}}}
]},
{"width": 231, "height": 171,
 "encoding": {
   "x": {"field": "x", "type": "quantitative", "scale": {"domain": [0, 2.5], "nice": false},
     "axis": {"title": "C₄\u00a0\u00a0\u00a0\u00a0\u00a0\u00a0\u00a0\u00a0\u00a0\u00a0\u00a0\u00a0\u00a0\u00a0\u00a0\u00a0\u00a0\u00a0\u00a0r, Bohr\u00a0\u00a0\u00a0\u00a0\u00a0\u00a0\u00a0\u00a0\u00a0\u00a0\u00a0\u00a0\u00a0\u00a0\u00a0\u00a0\u00a0\u00a0\u00a0C₃", "titleFontSize": 14, "titlePadding": 10, "values": [0,0.25,0.5,0.75,1,1.25,1.5,1.75,2,2.25,2.5], "labelExpr": "abs(datum.value*2 - round(datum.value*2)) < 0.001 ? format(datum.value, '.1f') : ''", "tickSize": {"condition": {"test": "abs(datum.value*2 - round(datum.value*2)) < 0.001", "value": -4}, "value": -2}, "labelPadding": 6}},
   "y": {"field": "y", "type": "quantitative", "scale": {"domain": [0, 0.5], "nice": false},
     "axis": {"title": "Ellipticity", "titleFontSize": 13, "titlePadding": 12, "values": [0,0.05,0.1,0.15,0.2,0.25,0.3,0.35,0.4,0.45,0.5], "labelExpr": "abs(datum.value*10 - round(datum.value*10)) < 0.001 ? format(datum.value, '.1f') : ''", "tickSize": {"condition": {"test": "abs(datum.value*10 - round(datum.value*10)) < 0.001", "value": 4}, "value": 2}, "labelPadding": 1}}
 },
 "layer": [
 {"data": {"name": "curves"}, "transform": [{"filter": "datum.p == 'CFS'"}],
  "mark": {"type": "line", "interpolate": "monotone", "strokeWidth": 1.5},
  "encoding": {"color": {"field": "s", "type": "nominal", "scale": {"domain": ["INT", "TS", "EP"], "range": ["#000000", "#ff0000", "#1c1cff"]}}}},
 {"data": {"name": "labels"}, "transform": [{"filter": "datum.p == 'CFS'"}],
  "mark": {"type": "text", "align": "left", "baseline": "alphabetic", "fontSize": 15, "fontWeight": "bold", "font": "Liberation Sans", "color": "#111"},
  "encoding": {"text": {"field": "label"}}}
]},
{"width": 231, "height": 171,
 "encoding": {
   "x": {"field": "x", "type": "quantitative", "scale": {"domain": [0, 2.5], "nice": false},
     "axis": {"title": "C₄\u00a0\u00a0\u00a0\u00a0\u00a0\u00a0\u00a0\u00a0\u00a0\u00a0\u00a0\u00a0\u00a0\u00a0\u00a0\u00a0\u00a0\u00a0\u00a0r, Bohr\u00a0\u00a0\u00a0\u00a0\u00a0\u00a0\u00a0\u00a0\u00a0\u00a0\u00a0\u00a0\u00a0\u00a0\u00a0\u00a0\u00a0\u00a0\u00a0C₃", "titleFontSize": 14, "titlePadding": 10, "values": [0,0.25,0.5,0.75,1,1.25,1.5,1.75,2,2.25,2.5], "labelExpr": "abs(datum.value*2 - round(datum.value*2)) < 0.001 ? format(datum.value, '.1f') : ''", "tickSize": {"condition": {"test": "abs(datum.value*2 - round(datum.value*2)) < 0.001", "value": -4}, "value": -2}, "labelPadding": 6}},
   "y": {"field": "y", "type": "quantitative", "scale": {"domain": [0, 0.55], "nice": false},
     "axis": {"title": "Ellipticity", "titleFontSize": 13, "titlePadding": 12, "values": [0,0.05,0.1,0.15,0.2,0.25,0.3,0.35,0.4,0.45,0.5,0.55], "labelExpr": "abs(datum.value*10 - round(datum.value*10)) < 0.001 ? format(datum.value, '.1f') : ''", "tickSize": {"condition": {"test": "abs(datum.value*10 - round(datum.value*10)) < 0.001", "value": 4}, "value": 2}, "labelPadding": 1}}
 },
 "layer": [
 {"data": {"name": "curves"}, "transform": [{"filter": "datum.p == 'CFR'"}],
  "mark": {"type": "line", "interpolate": "monotone", "strokeWidth": 1.5},
  "encoding": {"color": {"field": "s", "type": "nominal", "scale": {"domain": ["INT", "TS", "EP"], "range": ["#000000", "#ff0000", "#1c1cff"]}}}},
 {"data": {"name": "labels"}, "transform": [{"filter": "datum.p == 'CFR'"}],
  "mark": {"type": "text", "align": "left", "baseline": "alphabetic", "fontSize": 15, "fontWeight": "bold", "font": "Liberation Sans", "color": "#111"},
  "encoding": {"text": {"field": "label"}}}
]},
{"width": 231, "height": 171,
 "encoding": {
   "x": {"field": "x", "type": "quantitative", "scale": {"domain": [0, 2.5], "nice": false},
     "axis": {"title": "C₄\u00a0\u00a0\u00a0\u00a0\u00a0\u00a0\u00a0\u00a0\u00a0\u00a0\u00a0\u00a0\u00a0\u00a0\u00a0\u00a0\u00a0\u00a0\u00a0r, Bohr\u00a0\u00a0\u00a0\u00a0\u00a0\u00a0\u00a0\u00a0\u00a0\u00a0\u00a0\u00a0\u00a0\u00a0\u00a0\u00a0\u00a0\u00a0\u00a0C₃", "titleFontSize": 14, "titlePadding": 10, "values": [0,0.25,0.5,0.75,1,1.25,1.5,1.75,2,2.25,2.5], "labelExpr": "abs(datum.value*2 - round(datum.value*2)) < 0.001 ? format(datum.value, '.1f') : ''", "tickSize": {"condition": {"test": "abs(datum.value*2 - round(datum.value*2)) < 0.001", "value": -4}, "value": -2}, "labelPadding": 6}},
   "y": {"field": "y", "type": "quantitative", "scale": {"domain": [0, 0.5], "nice": false},
     "axis": {"title": "Ellipticity", "titleFontSize": 13, "titlePadding": 12, "values": [0,0.05,0.1,0.15,0.2,0.25,0.3,0.35,0.4,0.45,0.5], "labelExpr": "abs(datum.value*10 - round(datum.value*10)) < 0.001 ? format(datum.value, '.1f') : ''", "tickSize": {"condition": {"test": "abs(datum.value*10 - round(datum.value*10)) < 0.001", "value": 4}, "value": 2}, "labelPadding": 1}}
 },
 "layer": [
 {"data": {"name": "curves"}, "transform": [{"filter": "datum.p == 'CFL'"}],
  "mark": {"type": "line", "interpolate": "monotone", "strokeWidth": 1.5},
  "encoding": {"color": {"field": "s", "type": "nominal", "scale": {"domain": ["INT", "TS", "EP"], "range": ["#000000", "#ff0000", "#1c1cff"]}}}},
 {"data": {"name": "labels"}, "transform": [{"filter": "datum.p == 'CFL'"}],
  "mark": {"type": "text", "align": "left", "baseline": "alphabetic", "fontSize": 15, "fontWeight": "bold", "font": "Liberation Sans", "color": "#111"},
  "encoding": {"text": {"field": "label"}}}
]},
{"width": 231, "height": 171,
 "encoding": {
   "x": {"field": "x", "type": "quantitative", "scale": {"domain": [0, 2.5], "nice": false},
     "axis": {"title": "C₄\u00a0\u00a0\u00a0\u00a0\u00a0\u00a0\u00a0\u00a0\u00a0\u00a0\u00a0\u00a0\u00a0\u00a0\u00a0\u00a0\u00a0\u00a0\u00a0r, Bohr\u00a0\u00a0\u00a0\u00a0\u00a0\u00a0\u00a0\u00a0\u00a0\u00a0\u00a0\u00a0\u00a0\u00a0\u00a0\u00a0\u00a0\u00a0\u00a0C₃", "titleFontSize": 14, "titlePadding": 10, "values": [0,0.25,0.5,0.75,1,1.25,1.5,1.75,2,2.25,2.5], "labelExpr": "abs(datum.value*2 - round(datum.value*2)) < 0.001 ? format(datum.value, '.1f') : ''", "tickSize": {"condition": {"test": "abs(datum.value*2 - round(datum.value*2)) < 0.001", "value": -4}, "value": -2}, "labelPadding": 6}},
   "y": {"field": "y", "type": "quantitative", "scale": {"domain": [0, 0.5], "nice": false},
     "axis": {"title": "Ellipticity", "titleFontSize": 13, "titlePadding": 12, "values": [0,0.05,0.1,0.15,0.2,0.25,0.3,0.35,0.4,0.45,0.5], "labelExpr": "abs(datum.value*10 - round(datum.value*10)) < 0.001 ? format(datum.value, '.1f') : ''", "tickSize": {"condition": {"test": "abs(datum.value*10 - round(datum.value*10)) < 0.001", "value": 4}, "value": 2}, "labelPadding": 1}}
 },
 "layer": [
 {"data": {"name": "curves"}, "transform": [{"filter": "datum.p == 'CFT'"}],
  "mark": {"type": "line", "interpolate": "monotone", "strokeWidth": 1.5},
  "encoding": {"color": {"field": "s", "type": "nominal", "scale": {"domain": ["INT", "TS", "EP"], "range": ["#000000", "#ff0000", "#1c1cff"]}}}},
 {"data": {"name": "labels"}, "transform": [{"filter": "datum.p == 'CFT'"}],
  "mark": {"type": "text", "align": "left", "baseline": "alphabetic", "fontSize": 15, "fontWeight": "bold", "font": "Liberation Sans", "color": "#111"},
  "encoding": {"text": {"field": "label"}}}
]},
{"width": 231, "height": 171,
 "encoding": {
   "x": {"field": "x", "type": "quantitative", "scale": {"domain": [0, 2.5], "nice": false},
     "axis": {"title": "C₄\u00a0\u00a0\u00a0\u00a0\u00a0\u00a0\u00a0\u00a0\u00a0\u00a0\u00a0\u00a0\u00a0\u00a0\u00a0\u00a0\u00a0\u00a0\u00a0r, Bohr\u00a0\u00a0\u00a0\u00a0\u00a0\u00a0\u00a0\u00a0\u00a0\u00a0\u00a0\u00a0\u00a0\u00a0\u00a0\u00a0\u00a0\u00a0\u00a0C₃", "titleFontSize": 14, "titlePadding": 10, "values": [0,0.25,0.5,0.75,1,1.25,1.5,1.75,2,2.25,2.5], "labelExpr": "abs(datum.value*2 - round(datum.value*2)) < 0.001 ? format(datum.value, '.1f') : ''", "tickSize": {"condition": {"test": "abs(datum.value*2 - round(datum.value*2)) < 0.001", "value": -4}, "value": -2}, "labelPadding": 6}},
   "y": {"field": "y", "type": "quantitative", "scale": {"domain": [0, 0.5], "nice": false},
     "axis": {"title": "Ellipticity", "titleFontSize": 13, "titlePadding": 12, "values": [0,0.05,0.1,0.15,0.2,0.25,0.3,0.35,0.4,0.45,0.5], "labelExpr": "abs(datum.value*10 - round(datum.value*10)) < 0.001 ? format(datum.value, '.1f') : ''", "tickSize": {"condition": {"test": "abs(datum.value*10 - round(datum.value*10)) < 0.001", "value": 4}, "value": 2}, "labelPadding": 1}}
 },
 "layer": [
 {"data": {"name": "curves"}, "transform": [{"filter": "datum.p == 'CFU'"}],
  "mark": {"type": "line", "interpolate": "monotone", "strokeWidth": 1.5},
  "encoding": {"color": {"field": "s", "type": "nominal", "scale": {"domain": ["INT", "TS", "EP"], "range": ["#000000", "#ff0000", "#1c1cff"]}}}},
 {"data": {"name": "labels"}, "transform": [{"filter": "datum.p == 'CFU'"}],
  "mark": {"type": "text", "align": "left", "baseline": "alphabetic", "fontSize": 15, "fontWeight": "bold", "font": "Liberation Sans", "color": "#111"},
  "encoding": {"text": {"field": "label"}}}
]}
]
}
